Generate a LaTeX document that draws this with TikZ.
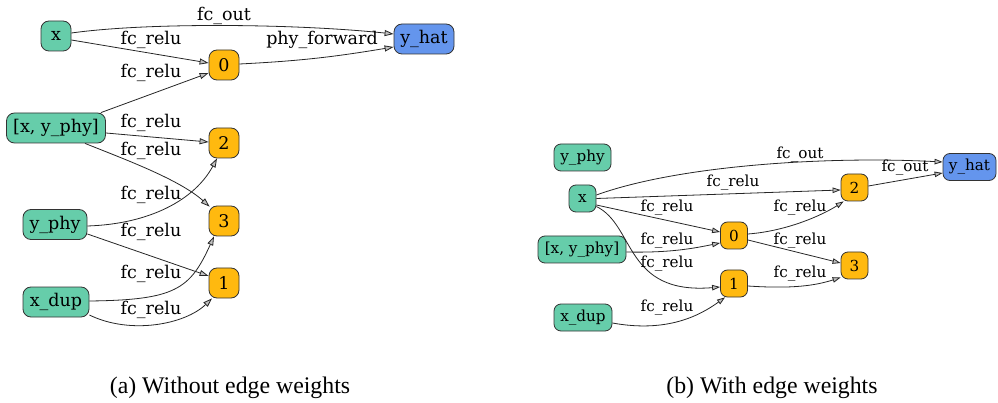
\documentclass[tikz,border=0pt]{standalone}
\usepackage{fontspec}
\setmainfont{Liberation Serif}
\newfontfamily\gvfont{DejaVu Serif}
\usetikzlibrary{arrows.meta}
\definecolor{gvgreen}{HTML}{66CDAA}
\definecolor{gvorange}{HTML}{FFB90F}
\definecolor{gvblue}{HTML}{6495ED}
\begin{document}
\begin{tikzpicture}[x=1pt,y=-1pt,
  gvnode/.style={draw=black!80, line width=0.8pt, rounded corners=8pt,
    font=\gvfont\fontsize{17.5}{20}\selectfont, minimum height=30pt, minimum width=30pt,
    inner xsep=2pt, inner ysep=0pt},
  gvsmall/.style={gvnode, rounded corners=7pt, font=\gvfont\fontsize{15.2}{17}\selectfont,
    minimum height=27pt, minimum width=27pt},
  grn/.style={gvnode, fill=gvgreen},
  org/.style={gvnode, fill=gvorange},
  blu/.style={gvnode, fill=gvblue},
  grnS/.style={gvsmall, fill=gvgreen},
  orgS/.style={gvsmall, fill=gvorange},
  bluS/.style={gvsmall, fill=gvblue},
  conn/.style={draw=black!85, line width=0.8pt,
    -{Triangle[length=9pt,width=6pt,fill=black!25]}},
  connS/.style={conn, -{Triangle[length=8pt,width=5.5pt,fill=black!25]}},
  lbl/.style={font=\gvfont\fontsize{17.5}{20}\selectfont, inner sep=0pt},
  lblS/.style={font=\gvfont\fontsize{15.2}{17}\selectfont, inner sep=0pt},
  captext/.style={font=\fontsize{23.8}{27}\selectfont, anchor=base, inner sep=0pt}
]
\useasboundingbox (0,0) rectangle (998,403);

% ---------- (a) ----------
\node[grn] (ax) at (56,36) {x};
\node[blu, minimum width=60pt] (ayhat) at (424,39) {y\_hat};
\node[org] (a0) at (224,65) {0};
\node[grn, minimum width=99pt] (axy) at (56,128) {[x, y\_phy]};
\node[org] (a2) at (224,143) {2};
\node[grn, minimum width=64pt] (ayphy) at (55,224.5) {y\_phy};
\node[org] (a3) at (224,221) {3};
\node[grn, minimum width=66pt] (axdup) at (56,302) {x\_dup};
\node[org] (a1) at (224,283) {1};

\draw[conn] ([yshift=3pt]ax.east) .. controls +(79,-11) and +(-94,-10) .. ([yshift=5pt]ayhat.west);
\draw[conn] ([yshift=-4pt]ax.east) -- ([yshift=2pt]a0.west);
\draw[conn] ([yshift=1pt]a0.east) .. controls +(60,-3) and +(-60,10) .. ([yshift=-8pt]ayhat.west);
\draw[conn] ([xshift=-5pt]axy.north east) -- ([yshift=-8pt]a0.west);
\draw[conn] ([yshift=-5pt]axy.east) -- ([yshift=1pt]a2.west);
\draw[conn] ([xshift=29pt]axy.south) .. controls +(40,16) and +(-30,-27) .. ([xshift=1pt,yshift=-1pt]a3.north west);
\draw[conn] ([yshift=-1.5pt]ayphy.east) .. controls +(63,-2) and +(-22,41) .. ([xshift=-7pt]a2.south);
\draw[conn] ([yshift=-9.5pt]ayphy.east) -- ([yshift=7pt]a1.west);
\draw[conn] ([yshift=1pt]axdup.east) .. controls +(86,-1) and +(-24,53) .. ([xshift=-10pt]a3.south);
\draw[conn] ([yshift=-13pt]axdup.east) .. controls +(41,20) and +(-27,26) .. ([xshift=-12pt]a1.south);

\node[lbl] (la1) at (224,16) {fc\_out};
\node[lbl] (la2) at (151,40) {fc\_relu};
\node[lbl] (la3) at (322,40) {phy\_forward};
\node[lbl] (la4) at (151,73) {fc\_relu};
\node[lbl] (la5) at (151,123) {fc\_relu};
\node[lbl] (la6) at (151,151) {fc\_relu};
\node[lbl] (la7) at (151,195) {fc\_relu};
\node[lbl] (la8) at (151,232) {fc\_relu};
\node[lbl] (la9) at (151,274) {fc\_relu};
\node[lbl] (la10) at (151,310) {fc\_relu};

% ---------- (b) ----------
\node[grnS, minimum width=57pt] (by) at (582.5,157.5) {y\_phy};
\node[bluS, minimum width=53pt] (byhat) at (969.5,167) {y\_hat};
\node[grnS] (bx) at (582.5,198.5) {x};
\node[orgS] (b2) at (854.5,187.5) {2};
\node[orgS] (b0) at (734,235.5) {0};
\node[grnS, minimum width=88pt] (bxy) at (582,249.5) {[x, y\_phy]};
\node[orgS] (b3) at (854.5,265.5) {3};
\node[orgS] (b1) at (734,283.5) {1};
\node[grnS, minimum width=58pt] (bxd) at (583,317.5) {x\_dup};

\draw[connS] ([yshift=3.5pt]bx.east) .. controls +(83,-30) and +(-113,-6) .. ([yshift=5pt]byhat.west);
\draw[connS] (bx.east) -- ([yshift=-2.5pt]b2.west);
\draw[connS] ([yshift=-6.5pt]bx.east) -- ([yshift=3.5pt]b0.west);
\draw[connS] ([yshift=-8pt]bx.east) .. controls +(39,19) and +(-96,8) .. ([yshift=-3.5pt]b1.west);
\draw[connS] ([yshift=-2.5pt]bxy.east) .. controls +(45,1) and +(-25,5) .. ([yshift=-7.5pt]b0.west);
\draw[connS] ([yshift=1.5pt]b0.east) .. controls +(40,-3) and +(-20,13) .. ([xshift=3pt]b2.south west);
\draw[connS] ([yshift=-4.5pt]b0.east) -- ([yshift=2.5pt]b3.west);
\draw[connS] ([yshift=-2.5pt]b1.east) .. controls +(45,3) and +(-25,8) .. ([yshift=-12pt]b3.west);
\draw[connS] ([yshift=1.5pt]b2.east) -- ([yshift=-6pt]byhat.west);
\draw[connS] ([yshift=-5.5pt]bxd.east) .. controls +(55,10) and +(-25,18) .. ([xshift=-9pt]b1.south);

\node[lblS] (lb1) at (800,155) {fc\_out};
\node[lblS] (lb2) at (733,183) {fc\_relu};
\node[lblS] (lb3) at (667,208) {fc\_relu};
\node[lblS] (lb4) at (667,241) {fc\_relu};
\node[lblS] (lb5) at (667,264) {fc\_relu};
\node[lblS] (lb6) at (800,208) {fc\_relu};
\node[lblS] (lb7) at (800,241) {fc\_relu};
\node[lblS] (lb8) at (800,274) {fc\_relu};
\node[lblS] (lb9) at (905,168) {fc\_out};
\node[lblS] (lb10) at (667,308) {fc\_relu};

% ---------- captions ----------
\node[captext] (capa) at (230,393) {(a) Without edge weights};
\node[captext] (capb) at (772,393) {(b) With edge weights};
\end{tikzpicture}
\end{document}
